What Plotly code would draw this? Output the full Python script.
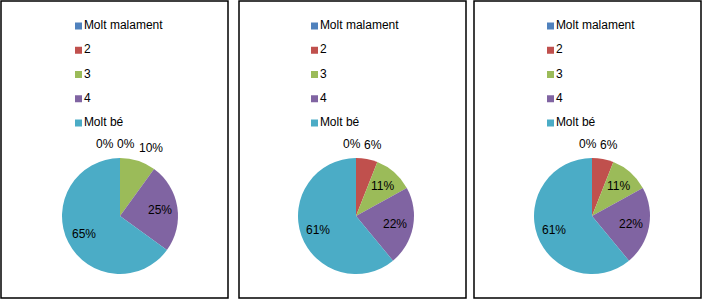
import math
import plotly.graph_objects as go

categories = ["Molt malament", "2", "3", "4", "Molt bé"]
colors = ["#4F81BD", "#C0504D", "#9BBB59", "#8064A2", "#4BACC6"]
values_1 = [0, 0, 10, 25, 65]
values_2 = [0, 6, 11, 22, 61]
values_3 = [0, 6, 11, 22, 61]
panels = [values_1, values_2, values_3]

W, H = 703, 301
panel_x = [(1, 228), (239, 466), (474, 701)]
panel_y = (1, 298)
pie_cx = [120, 356, 592]
pie_cy = 216
pie_r = 58
legend_x = [78.5, 314.5, 550.5]
legend_top, legend_bottom = 26, 123

FONT = "Liberation Sans"
FS = 12
INSIDE_R = 0.69
OUTSIDE_R = 1.24
INSIDE_MIN = 0.11
GAP_PX = 4
EXT_X = 1.5               # overlay axis extent (in pie radii)
EXT_Y_TOP, EXT_Y_BOT = 1.5, 1.3


def text_width(s):
    w = 0.0
    for ch in s:
        w += 0.889 if ch == "%" else 0.556
    return w * FS


def label_layout(vals):
    total = float(sum(vals))
    cum = 0.0
    xs, ys, txt, outside = [], [], [], []
    for v in vals:
        frac = v / total
        th = 2 * math.pi * (cum + frac / 2)
        cum += frac
        rho = INSIDE_R if frac >= INSIDE_MIN else OUTSIDE_R
        xs.append(rho * math.sin(th))
        ys.append(rho * math.cos(th))
        txt.append(f"{round(frac * 100):.0f}%")
        outside.append(frac < INSIDE_MIN)
    # push overlapping outside labels apart horizontally (cluster, keep mean)
    idx = [i for i in range(len(vals)) if outside[i]]
    idx.sort(key=lambda i: (xs[i], i))
    if len(idx) > 1:
        widths = [text_width(txt[i]) / pie_r for i in idx]
        gap = GAP_PX / pie_r
        rel = [0.0]
        for k in range(1, len(idx)):
            rel.append(rel[-1] + (widths[k - 1] + widths[k]) / 2 + gap)
        nominal = [xs[i] for i in idx]
        overlap = any(nominal[k] - nominal[k - 1] < rel[k] - rel[k - 1] for k in range(1, len(idx)))
        if overlap:
            shift = sum(nominal) / len(nominal) - sum(rel) / len(rel)
            for k, i in enumerate(idx):
                xs[i] = rel[k] + shift
    return xs, ys, txt


fig = go.Figure()
shapes = []
annotations = []
axes = {}
for i, vals in enumerate(panels):
    cx = pie_cx[i]
    dom_x = [(cx - pie_r) / W, (cx + pie_r) / W]
    dom_y = [(H - pie_cy - pie_r) / H, (H - pie_cy + pie_r) / H]
    fig.add_trace(go.Pie(
        values=vals, labels=categories, sort=False, direction="clockwise",
        rotation=0, marker=dict(colors=colors, line=dict(width=0)),
        textinfo="none", showlegend=False,
        domain=dict(x=dom_x, y=dom_y),
    ))
    # legend drawn as a scatter
    n = i + 1
    fig.add_trace(go.Scatter(
        x=[0] * len(categories), y=list(range(len(categories))),
        mode="markers+text", text=categories, textposition="middle right",
        marker=dict(symbol="square", size=7, color=colors, line=dict(width=0)),
        textfont=dict(family=FONT, size=FS, color="#000000"),
        cliponaxis=False, showlegend=False, hoverinfo="skip",
        xaxis=f"x{n if n > 1 else ''}", yaxis=f"y{n if n > 1 else ''}",
    ))
    rowgap = (legend_bottom - legend_top) / 4
    top = legend_top - rowgap / 2
    bot = legend_bottom + rowgap / 2
    axes["xaxis" if n == 1 else f"xaxis{n}"] = dict(
        domain=[legend_x[i] / W, (legend_x[i] + 140) / W], range=[0, 1], visible=False, fixedrange=True)
    axes["yaxis" if n == 1 else f"yaxis{n}"] = dict(
        domain=[1 - bot / H, 1 - top / H], range=[4.5, -0.5], visible=False, fixedrange=True)
    # percentage labels placed on an overlay axis aligned with the pie
    m = i + 4
    lx, ly, lt = label_layout(vals)
    for x, y, t in zip(lx, ly, lt):
        annotations.append(dict(
            x=x, y=y, text=t, xref=f"x{m}", yref=f"y{m}", showarrow=False,
            xanchor="center", yanchor="middle",
            font=dict(family=FONT, size=FS, color="#000000"),
        ))
    axes[f"xaxis{m}"] = dict(
        domain=[(cx - EXT_X * pie_r) / W, (cx + EXT_X * pie_r) / W],
        range=[-EXT_X, EXT_X], visible=False, fixedrange=True)
    axes[f"yaxis{m}"] = dict(
        domain=[(H - pie_cy - EXT_Y_BOT * pie_r) / H, (H - pie_cy + EXT_Y_TOP * pie_r) / H],
        range=[-EXT_Y_BOT, EXT_Y_TOP], visible=False, fixedrange=True)

    x0, x1 = panel_x[i]
    shapes.append(dict(type="rect", xref="paper", yref="paper",
                       x0=x0 / W, x1=x1 / W, y0=1 - panel_y[1] / H, y1=1 - panel_y[0] / H,
                       line=dict(color="#000000", width=1.5)))

fig.update_layout(
    width=W, height=H, margin=dict(l=0, r=0, t=0, b=0),
    paper_bgcolor="#ffffff", plot_bgcolor="rgba(0,0,0,0)",
    shapes=shapes, annotations=annotations, showlegend=False,
    font=dict(family=FONT, size=FS, color="#000000"),
    **axes,
)
fig.write_html("out.html")
